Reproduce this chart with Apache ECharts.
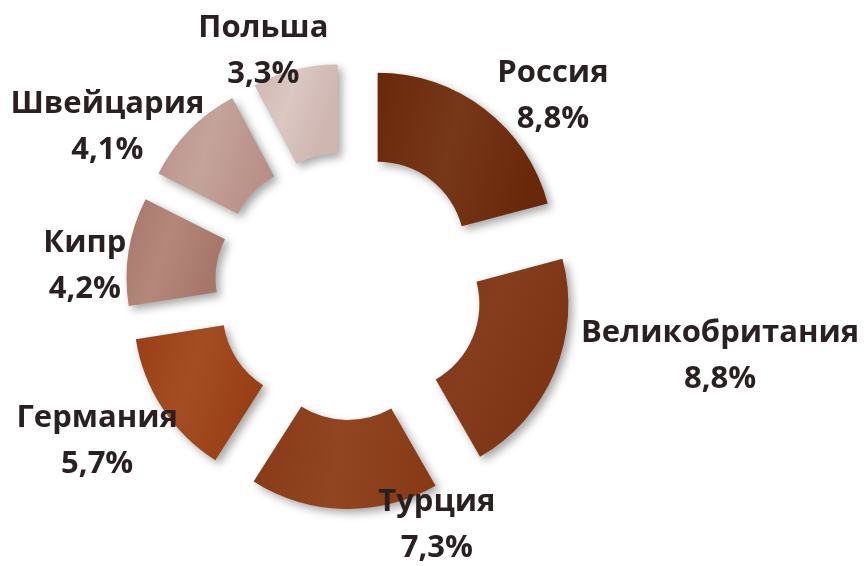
<!DOCTYPE html>
<html>
<head>
<meta charset="utf-8">
<script src="https://cdn.jsdelivr.net/npm/echarts@6/dist/echarts.min.js"></script>
<style>
  html, body { margin: 0; background: #fff; }
  #main { width: 864px; height: 566px; }
</style>
</head>
<body>
<div id="main"></div>
<script>
// данные
var countries = ['Россия', 'Великобритания', 'Турция', 'Германия', 'Кипр', 'Швейцария', 'Польша'];
var shares = [8.8, 8.8, 7.3, 5.7, 4.2, 4.1, 3.3];

// оформление
var edgeColors = ['#6a280b', '#7e3515', '#883a16', '#983f16', '#a6766a', '#b99088', '#cfb6b1'];
var midColors = ['#773719', '#853d1d', '#914520', '#a54d22', '#b5877b', '#c4a39b', '#dbc7c3'];
var labelNudge = [[57, -5], [151, -19], [98, 6], [-52, 27], [-29, 16], [-70, 4], [-24, -9]];

var myChart = echarts.init(document.getElementById('main'));

var pieData = countries.map(function (name, i) {
    return {
        name: name,
        value: shares[i],
        selected: true,
        itemStyle: {
            color: new echarts.graphic.LinearGradient(0, 0, 1, 0.3, [
                { offset: 0, color: edgeColors[i] },
                { offset: 0.5, color: midColors[i] },
                { offset: 1, color: edgeColors[i] }
            ])
        }
    };
});

myChart.setOption({
    animation: false,
    series: [
        {
            type: 'pie',
            center: [349, 286],
            radius: [87, 176],
            startAngle: 90,
            clockwise: true,
            selectedMode: 'multiple',
            selectedOffset: 47,
            avoidLabelOverlap: false,
            itemStyle: {
                shadowBlur: 8,
                shadowColor: 'rgba(0, 0, 0, 0.35)',
                shadowOffsetX: 4,
                shadowOffsetY: 4
            },
            emphasis: { scale: false },
            label: {
                show: true,
                position: 'outside',
                color: '#2a1f21',
                fontFamily: 'Open Sans',
                fontWeight: 'bold',
                fontSize: 31,
                lineHeight: 46,
                formatter: function (p) {
                    return p.name + '\n' + p.value.toFixed(1).replace('.', ',') + '%';
                }
            },
            labelLine: { show: false, length: 10, length2: 0 },
            labelLayout: function (p) {
                var n = labelNudge[p.dataIndex];
                return { align: 'center', verticalAlign: 'middle', dx: n[0], dy: n[1] };
            },
            data: pieData
        }
    ]
});
</script>
</body>
</html>
